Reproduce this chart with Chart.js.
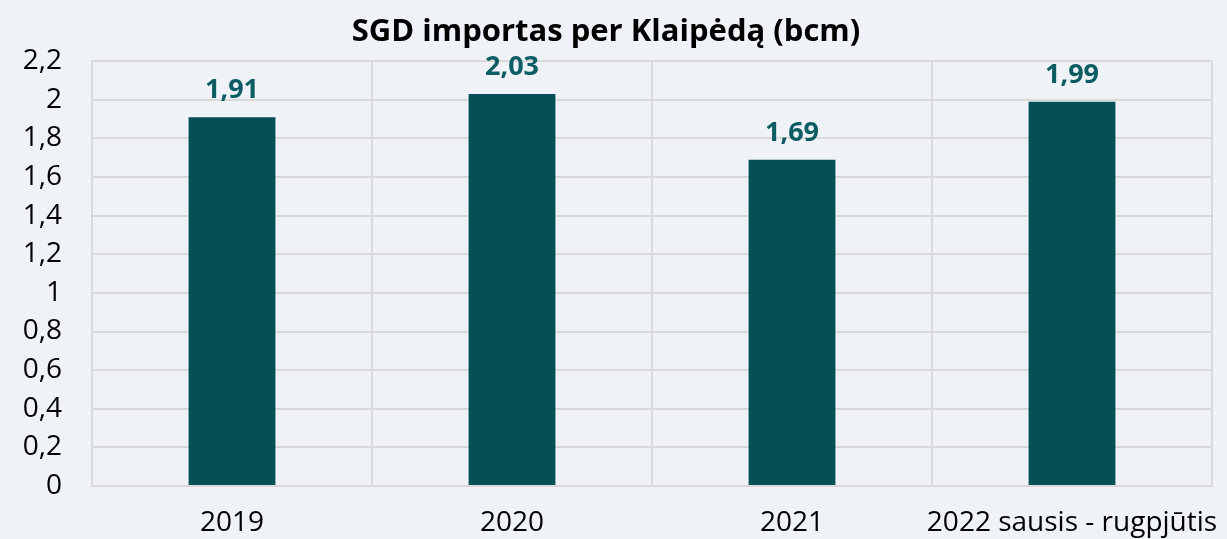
<!DOCTYPE html>
<html>
<head>
<meta charset="utf-8">
<script src="https://cdn.jsdelivr.net/npm/chart.js@4/dist/chart.umd.min.js"></script>
<style>
  html, body { margin: 0; padding: 0; background: #eff3f7; }
  #wrap { width: 1227px; height: 539px; }
</style>
</head>
<body>
<div id="wrap"><canvas id="chart"></canvas></div>
<script>
const categories = ["2019", "2020", "2021", "2022 sausis - rugpjūtis"];
const imports = [1.91, 2.03, 1.69, 1.99];
const yMin = 0;
const yMax = 2.2;
const yStep = 0.2;

const fmt = v => (Math.round(v * 100) / 100).toString().replace(".", ",");
const FONT = "'Open Sans', sans-serif";

// draws the value above each bar
const barLabels = {
  id: "barLabels",
  afterDatasetsDraw(chart) {
    const ctx = chart.ctx;
    const meta = chart.getDatasetMeta(0);
    ctx.save();
    ctx.font = "bold 27px " + FONT;
    ctx.fillStyle = "#0b5c63";
    ctx.textAlign = "center";
    ctx.textBaseline = "bottom";
    meta.data.forEach((bar, i) => {
      ctx.fillText(fmt(imports[i]), bar.x, bar.y - 13);
    });
    ctx.restore();
  }
};

new Chart(document.getElementById("chart").getContext("2d"), {
  type: "bar",
  data: {
    labels: categories,
    datasets: [{
      data: imports,
      backgroundColor: "#074f57",
      borderWidth: 0,
      categoryPercentage: 1,
      barPercentage: 0.31
    }]
  },
  options: {
    responsive: true,
    maintainAspectRatio: false,
    animation: false,
    layout: { padding: { left: 0, right: 15, top: 0, bottom: 0 } },
    plugins: {
      legend: { display: false },
      tooltip: { enabled: false },
      title: {
        display: true,
        text: "SGD importas per Klaipėdą (bcm)",
        color: "#000",
        font: { family: FONT, size: 31, weight: "bold" },
        padding: { top: 14, bottom: 10 }
      }
    },
    scales: {
      x: {
        afterFit: s => { s.height = 53; s.paddingRight = 0; s.paddingLeft = 0; },
        grid: { color: "#d9d9d9", lineWidth: 2, offset: true, drawTicks: false },
        border: { color: "#d9d9d9", width: 2 },
        ticks: {
          color: "#000",
          padding: 20,
          maxRotation: 0,
          autoSkip: false,
          font: { family: FONT, size: 28 }
        }
      },
      y: {
        min: yMin,
        max: yMax,
        afterFit: s => { s.width = 92; },
        grid: { color: "#d9d9d9", lineWidth: 2, drawTicks: false },
        border: { color: "#d9d9d9", width: 2 },
        ticks: {
          stepSize: yStep,
          color: "#000",
          padding: 30,
          callback: v => fmt(v),
          font: { family: FONT, size: 28 }
        }
      }
    }
  },
  plugins: [barLabels]
});
</script>
</body>
</html>
